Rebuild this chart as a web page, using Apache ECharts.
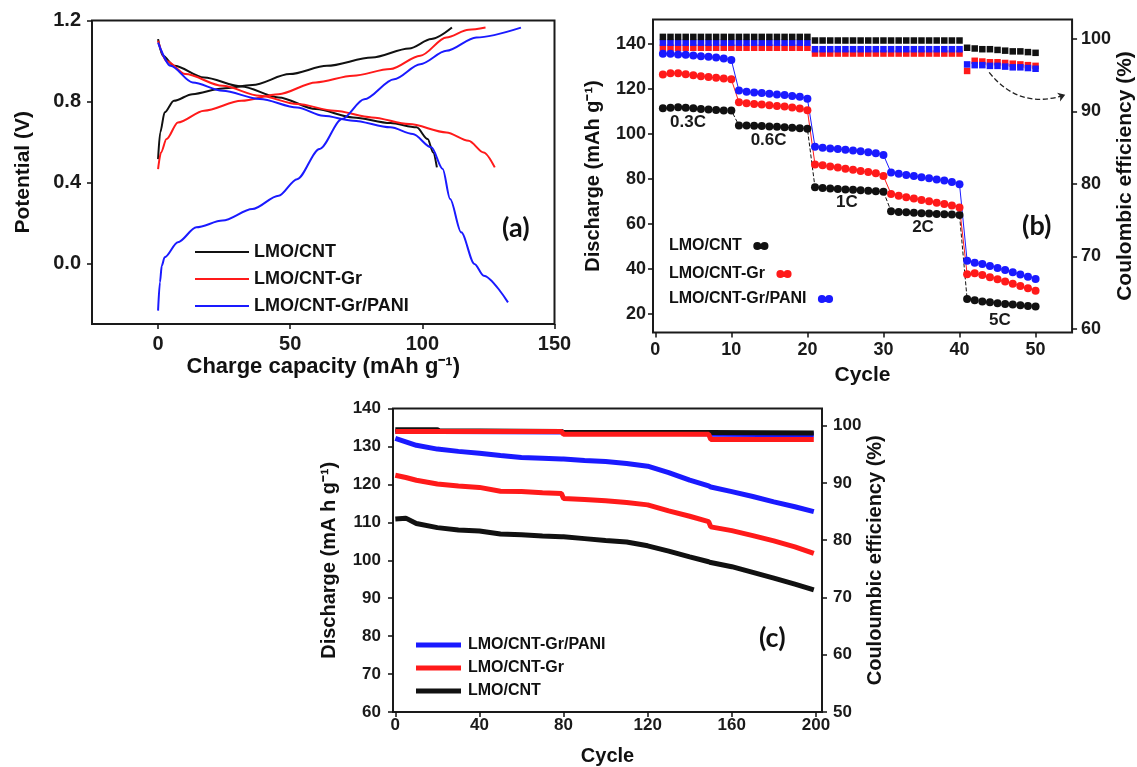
<!DOCTYPE html>
<html>
<head>
<meta charset="utf-8">
<script src="https://cdn.jsdelivr.net/npm/echarts/dist/echarts.min.js"></script>
<style>
html,body{margin:0;padding:0;background:#fff;}
#main{width:1137px;height:767px;}
</style>
</head>
<body>
<div id="main"></div>
<script>
// (a) charge / discharge profiles, capacity (mAh/g) vs potential (V)
var aCntChX = [0, 0.8, 2.5, 6, 13, 24.4, 35.7, 49.8, 63.9, 80.9, 95, 103.4, 111.2];
var aCntChY = [0.515, 0.647, 0.746, 0.803, 0.836, 0.864, 0.881, 0.935, 0.976, 1.017, 1.062, 1.108, 1.165];
var aCntDisX = [0, 1.8, 6.1, 17.4, 31.5, 45.6, 59.7, 73.8, 87.9, 97.8, 102, 104.1, 105.5];
var aCntDisY = [1.108, 1.026, 0.976, 0.918, 0.874, 0.82, 0.762, 0.721, 0.693, 0.672, 0.614, 0.548, 0.474];
var aGrChX = [0, 1.1, 3.2, 7.5, 17.4, 31.5, 45.6, 59.7, 73.8, 87.9, 99.2, 109.1, 117.5, 123.9];
var aGrChY = [0.466, 0.548, 0.614, 0.696, 0.754, 0.803, 0.836, 0.894, 0.927, 0.96, 1.026, 1.116, 1.154, 1.165];
var aGrDisX = [0, 3.2, 10.3, 24.4, 38.5, 52.6, 66.7, 80.9, 95, 109.1, 117.5, 123.2, 127.4];
var aGrDisY = [1.1, 1.0, 0.935, 0.877, 0.828, 0.787, 0.754, 0.721, 0.688, 0.647, 0.606, 0.548, 0.474];
var aPaniChX = [0, 0.7, 1.4, 2.5, 7.5, 14.5, 24.4, 35.7, 45.6, 52.6, 61.1, 69.6, 78, 89.3, 99.2, 109.1, 120.4, 137.3];
var aPaniChY = [-0.234, -0.094, -0.012, 0.03, 0.104, 0.178, 0.211, 0.268, 0.334, 0.416, 0.565, 0.713, 0.811, 0.91, 0.984, 1.05, 1.116, 1.165];
var aPaniDisX = [0, 4.7, 13.1, 24.4, 38.5, 52.6, 62.5, 73.8, 87.9, 96.4, 103.4, 107.7, 110.5, 114.7, 119.7, 123.2, 132.4];
var aPaniDisY = [1.091, 0.976, 0.894, 0.853, 0.812, 0.77, 0.729, 0.705, 0.672, 0.639, 0.573, 0.466, 0.318, 0.153, -0.003, -0.061, -0.193];

// (b) rate test, cycles 1..50 (discharge capacity and coulombic efficiency)
var bCntCap = [111.4, 111.6, 111.8, 111.6, 111.4, 111.0, 110.8, 110.6, 110.4, 110.4,
  103.7, 103.7, 103.6, 103.5, 103.3, 103.1, 102.9, 102.7, 102.5, 102.3,
  76.2, 75.9, 75.7, 75.5, 75.3, 75.1, 74.9, 74.7, 74.5, 74.3,
  65.6, 65.3, 65.1, 64.9, 64.7, 64.6, 64.4, 64.3, 64.1, 63.9,
  26.6, 26.0, 25.5, 25.1, 24.7, 24.4, 24.1, 23.8, 23.5, 23.2];
var bGrCap = [126.4, 126.9, 126.9, 126.5, 126.0, 125.6, 125.2, 124.9, 124.6, 124.2,
  114.0, 113.6, 113.3, 113.0, 112.7, 112.4, 112.1, 111.7, 111.3, 110.5,
  86.4, 86.0, 85.5, 85.0, 84.5, 84.0, 83.5, 83.0, 82.5, 81.2,
  73.3, 72.5, 71.8, 71.2, 70.6, 70.0, 69.4, 68.8, 68.1, 67.3,
  37.6, 38.0, 37.2, 36.3, 35.4, 34.4, 33.4, 32.4, 31.4, 30.3];
var bPaniCap = [135.6, 135.6, 135.3, 135.1, 134.8, 134.5, 134.2, 133.9, 133.5, 132.8,
  119.2, 118.7, 118.4, 118.1, 117.8, 117.5, 117.2, 116.8, 116.5, 115.6,
  94.3, 93.8, 93.5, 93.2, 92.9, 92.6, 92.2, 91.8, 91.4, 90.6,
  82.8, 82.2, 81.7, 81.2, 80.7, 80.2, 79.7, 79.2, 78.6, 77.6,
  43.6, 42.7, 42.1, 41.3, 40.4, 39.5, 38.5, 37.5, 36.5, 35.5];
var bCntCE = [100.3, 100.3, 100.3, 100.3, 100.3, 100.3, 100.3, 100.3, 100.3, 100.3,
  100.3, 100.3, 100.3, 100.3, 100.3, 100.3, 100.3, 100.3, 100.3, 100.3,
  99.8, 99.8, 99.8, 99.8, 99.8, 99.8, 99.8, 99.8, 99.8, 99.8,
  99.8, 99.8, 99.8, 99.8, 99.8, 99.8, 99.8, 99.8, 99.8, 99.8,
  98.8, 98.7, 98.6, 98.6, 98.5, 98.4, 98.3, 98.3, 98.2, 98.1];
var bGrCE = [98.8, 98.8, 98.8, 98.8, 98.8, 98.8, 98.8, 98.8, 98.8, 98.8,
  98.8, 98.8, 98.8, 98.8, 98.8, 98.8, 98.8, 98.8, 98.8, 98.8,
  98.0, 98.0, 98.0, 98.0, 98.0, 98.0, 98.0, 98.0, 98.0, 98.0,
  98.0, 98.0, 98.0, 98.0, 98.0, 98.0, 98.0, 98.0, 98.0, 98.0,
  95.6, 97.0, 96.9, 96.8, 96.8, 96.7, 96.6, 96.5, 96.4, 96.3];
var bPaniCE = [99.5, 99.5, 99.5, 99.5, 99.5, 99.5, 99.5, 99.5, 99.5, 99.5,
  99.5, 99.5, 99.5, 99.5, 99.5, 99.5, 99.5, 99.5, 99.5, 99.5,
  98.6, 98.6, 98.6, 98.6, 98.6, 98.6, 98.6, 98.6, 98.6, 98.6,
  98.6, 98.6, 98.6, 98.6, 98.6, 98.6, 98.6, 98.6, 98.6, 98.6,
  96.5, 96.4, 96.4, 96.3, 96.3, 96.2, 96.1, 96.1, 96.0, 95.9];
var bRateLabels = [[4.3, 105.2, '0.3C'], [14.9, 97, '0.6C'], [25.2, 69.6, '1C'], [35.2, 58.5, '2C'], [45.3, 17, '5C']];
var bArrow = [[43.9, 95.4], [53.9, 92.3]];

// (c) long cycling at fixed rate, 200 cycles
var cCycles = [0, 5, 10, 20, 30, 40, 50, 60, 70, 79, 80, 90, 100, 110, 120, 130, 140, 149, 150, 160, 170, 180, 190, 199];
var cPaniCap = [132.1, 131.2, 130.3, 129.3, 128.7, 128.2, 127.6, 127.1, 126.9, 126.7, 126.7, 126.3, 126.0, 125.5, 124.8, 123.1, 121.1, 119.6, 119.3, 118.1, 116.8, 115.4, 114.1, 112.8];
var cGrCap = [122.4, 121.8, 121.1, 120.1, 119.6, 119.2, 118.2, 118.1, 117.8, 117.6, 116.3, 116.0, 115.7, 115.2, 114.6, 113.0, 111.6, 110.2, 108.8, 107.8, 106.5, 105.1, 103.5, 101.8];
var cCntCap = [110.9, 111.1, 109.7, 108.6, 108.0, 107.7, 106.9, 106.7, 106.4, 106.2, 106.2, 105.7, 105.2, 104.8, 103.8, 102.4, 100.9, 99.6, 99.4, 98.3, 96.8, 95.3, 93.7, 92.2];
var cCeCycles = [0, 20, 21, 79, 80, 149, 150, 199];
var cCntCE = [99.3, 99.3, 99.1, 99.0, 98.8, 98.8, 98.8, 98.7];
var cGrCE = [99.0, 99.0, 99.0, 99.0, 98.5, 98.5, 97.6, 97.6];
var cPaniCE = [99.0, 99.0, 99.0, 98.9, 98.8, 98.6, 98.5, 98.4];

var BLACK = '#111111', RED = '#ff1a1a', BLUE = '#1a1aff';
var FONT = 'Liberation Sans';

function zip(xs, ys) {
  return xs.map(function (x, i) { return [x, ys[i]]; });
}
function byCycle(vals) {
  return vals.map(function (v, i) { return [i + 1, v]; });
}
function tickFont(size) {
  return { fontFamily: FONT, fontWeight: 'bold', fontSize: size, color: '#1a1a1a' };
}
function nameFont(size) {
  return { fontFamily: FONT, fontWeight: 'bold', fontSize: size, color: '#111' };
}
function valAxis(o) {
  var ax = {
    type: 'value',
    gridIndex: o.grid,
    position: o.position,
    min: o.min, max: o.max,
    axisLine: { show: false, onZero: false },
    splitLine: { show: false },
    axisTick: { show: true, length: 5, lineStyle: { color: '#111', width: 1.5 } },
    axisLabel: Object.assign({ margin: o.margin }, tickFont(o.font)),
    name: o.name, nameLocation: 'middle', nameGap: o.nameGap,
    nameTextStyle: nameFont(o.nameFont)
  };
  if (o.ticks) {
    ax.axisTick.customValues = o.ticks;
    ax.axisLabel.customValues = o.ticks;
  } else {
    ax.interval = o.interval;
  }
  if (o.fmt) ax.axisLabel.formatter = o.fmt;
  if (o.rotate !== undefined) ax.nameRotate = o.rotate;
  return ax;
}

function aLine(name, xs, ys, color) {
  return {
    name: name, type: 'line', xAxisIndex: 0, yAxisIndex: 0,
    data: zip(xs, ys), symbol: 'none', smooth: 0.3, smoothMonotone: 'x',
    lineStyle: { color: color, width: 2 }, itemStyle: { color: color }
  };
}
function bCap(name, vals, color, dash) {
  return {
    name: name, type: 'line', xAxisIndex: 1, yAxisIndex: 1,
    data: byCycle(vals), symbol: 'circle', symbolSize: 8, showSymbol: true,
    lineStyle: { color: color, width: 1, type: dash ? 'dashed' : 'solid' },
    itemStyle: { color: color, opacity: 1 }, z: 4
  };
}
function bCE(name, vals, color) {
  return {
    name: name, type: 'scatter', xAxisIndex: 1, yAxisIndex: 2,
    data: byCycle(vals), symbol: 'rect', symbolSize: 6.5,
    itemStyle: { color: color, opacity: 1 }, z: 3
  };
}
function cLine(name, xs, ys, color, yIdx) {
  return {
    name: name, type: 'line', xAxisIndex: 2, yAxisIndex: yIdx,
    data: zip(xs, ys), symbol: 'none',
    lineStyle: { color: color, width: 5 }, itemStyle: { color: color }
  };
}

var dotsIcon = 'path://M0,5a5,5 0 1,0 10,0a5,5 0 1,0 -10,0zM9,5a5,5 0 1,0 10,0a5,5 0 1,0 -10,0z';
var legendFmt = function (n) { return n.split('|')[1]; };
var legText = { fontFamily: FONT, fontWeight: 'bold', fontSize: 16, lineHeight: 17, color: '#111' };

function bLegend(name, top) {
  return {
    data: [name], formatter: legendFmt, orient: 'vertical', align: 'right',
    left: 664, top: top, icon: dotsIcon, itemWidth: 16, itemHeight: 8, selectedMode: false,
    textStyle: Object.assign({ padding: [0, 6, 0, 0] }, legText)
  };
}

var option = {
  backgroundColor: '#fff',
  animation: false,
  grid: [
    { left: 92, top: 20.5, width: 462.5, height: 303.5, show: true, borderColor: '#1a1a1a', borderWidth: 2 },
    { left: 653, top: 19.5, width: 422, height: 313, show: true, borderColor: '#1a1a1a', borderWidth: 2 },
    { left: 393, top: 408.5, width: 429, height: 304, show: true, borderColor: '#1a1a1a', borderWidth: 2 }
  ],
  xAxis: [
    valAxis({ grid: 0, min: -25, max: 150, ticks: [0, 50, 100, 150], font: 20, margin: 10,
      name: 'Charge capacity (mAh g⁻¹)', nameGap: 32, nameFont: 22 }),
    valAxis({ grid: 1, min: -0.3, max: 54.8, ticks: [0, 10, 20, 30, 40, 50], font: 18, margin: 9,
      name: 'Cycle', nameGap: 32, nameFont: 21 }),
    valAxis({ grid: 2, min: -1.1, max: 202.9, ticks: [0, 40, 80, 120, 160, 200], font: 17, margin: 5,
      name: 'Cycle', nameGap: 34, nameFont: 20 })
  ],
  yAxis: [
    valAxis({ grid: 0, position: 'left', min: -0.3, max: 1.2, ticks: [0, 0.4, 0.8, 1.2], font: 20, margin: 11,
      fmt: function (v) { return v.toFixed(1); },
      name: 'Potential (V)', nameGap: 58, nameFont: 21, rotate: 90 }),
    valAxis({ grid: 1, position: 'left', min: 11.7, max: 150.8, ticks: [20, 40, 60, 80, 100, 120, 140], font: 18, margin: 7,
      name: 'Discharge (mAh g⁻¹)', nameGap: 50, nameFont: 20, rotate: 90 }),
    valAxis({ grid: 1, position: 'right', min: 59.5, max: 102.7, ticks: [60, 70, 80, 90, 100], font: 18, margin: 9,
      name: 'Coulombic efficiency (%)', nameGap: 42, nameFont: 21, rotate: 90 }),
    valAxis({ grid: 2, position: 'left', min: 60, max: 140, interval: 10, font: 17, margin: 12,
      name: 'Discharge (mA h g⁻¹)', nameGap: 54, nameFont: 20, rotate: 90 }),
    valAxis({ grid: 2, position: 'right', min: 50, max: 103, ticks: [50, 60, 70, 80, 90, 100], font: 17, margin: 11,
      name: 'Couloumbic efficiency (%)', nameGap: 41, nameFont: 20, rotate: 90 })
  ],
  legend: [
    {
      data: ['a|LMO/CNT', 'a|LMO/CNT-Gr', 'a|LMO/CNT-Gr/PANI'],
      formatter: legendFmt, orient: 'vertical', left: 190, top: 238,
      icon: 'rect', itemWidth: 54, itemHeight: 2, itemGap: 9, selectedMode: false,
      textStyle: { fontFamily: FONT, fontWeight: 'bold', fontSize: 18, lineHeight: 18, color: '#111' }
    },
    bLegend('b|LMO/CNT', 232.5),
    bLegend('b|LMO/CNT-Gr', 260.5),
    bLegend('b|LMO/CNT-Gr/PANI', 285.5),
    {
      data: ['c|LMO/CNT-Gr/PANI', 'c|LMO/CNT-Gr', 'c|LMO/CNT'],
      formatter: legendFmt, orient: 'vertical', left: 411, top: 631.5,
      icon: 'rect', itemWidth: 45, itemHeight: 5, itemGap: 6, selectedMode: false,
      textStyle: Object.assign({ padding: [0, 0, 0, 2] }, legText)
    }
  ],
  graphic: [
    { type: 'text', left: 502, top: 215, style: { text: '(a)', fontFamily: 'Lato', fontWeight: 'bold', fontSize: 27, fill: '#111' } },
    { type: 'text', left: 1022, top: 213, style: { text: '(b)', fontFamily: 'Lato', fontWeight: 'bold', fontSize: 27, fill: '#111' } },
    { type: 'text', left: 759, top: 625, style: { text: '(c)', fontFamily: 'Lato', fontWeight: 'bold', fontSize: 27, fill: '#111' } }
  ],
  series: [
    aLine('a|LMO/CNT', aCntChX, aCntChY, BLACK),
    aLine('a|LMO/CNT', aCntDisX, aCntDisY, BLACK),
    aLine('a|LMO/CNT-Gr', aGrChX, aGrChY, RED),
    aLine('a|LMO/CNT-Gr', aGrDisX, aGrDisY, RED),
    aLine('a|LMO/CNT-Gr/PANI', aPaniChX, aPaniChY, BLUE),
    aLine('a|LMO/CNT-Gr/PANI', aPaniDisX, aPaniDisY, BLUE),

    bCE('bce|LMO/CNT-Gr', bGrCE, RED),
    bCE('bce|LMO/CNT-Gr/PANI', bPaniCE, BLUE),
    bCE('bce|LMO/CNT', bCntCE, BLACK),
    bCap('b|LMO/CNT', bCntCap, BLACK, true),
    bCap('b|LMO/CNT-Gr', bGrCap, RED, false),
    bCap('b|LMO/CNT-Gr/PANI', bPaniCap, BLUE, false),
    {
      name: 'rates', type: 'scatter', xAxisIndex: 1, yAxisIndex: 1, symbolSize: 0,
      data: bRateLabels, itemStyle: { opacity: 1 },
      label: { show: true, position: 'inside', formatter: function (p) { return p.data[2]; },
        fontFamily: FONT, fontWeight: 'bold', fontSize: 17, color: '#1a1a1a', opacity: 1 }
    },
    {
      name: 'arrow', type: 'lines', coordinateSystem: 'cartesian2d', xAxisIndex: 1, yAxisIndex: 2,
      data: [{ coords: bArrow }], symbol: ['none', 'arrow'], symbolSize: 7,
      lineStyle: { color: '#222', width: 1.3, type: 'dashed', curveness: -0.35, opacity: 1 }
    },

    cLine('c|LMO/CNT-Gr/PANI', cCycles, cPaniCap, BLUE, 3),
    cLine('c|LMO/CNT-Gr', cCycles, cGrCap, RED, 3),
    cLine('c|LMO/CNT', cCycles, cCntCap, BLACK, 3),
    cLine('cce|LMO/CNT-Gr/PANI', cCeCycles, cPaniCE, BLUE, 4),
    cLine('cce|LMO/CNT', cCeCycles, cCntCE, BLACK, 4),
    cLine('cce|LMO/CNT-Gr', cCeCycles, cGrCE, RED, 4)
  ]
};

var chart = echarts.init(document.getElementById('main'));
chart.setOption(option);
</script>
</body>
</html>
